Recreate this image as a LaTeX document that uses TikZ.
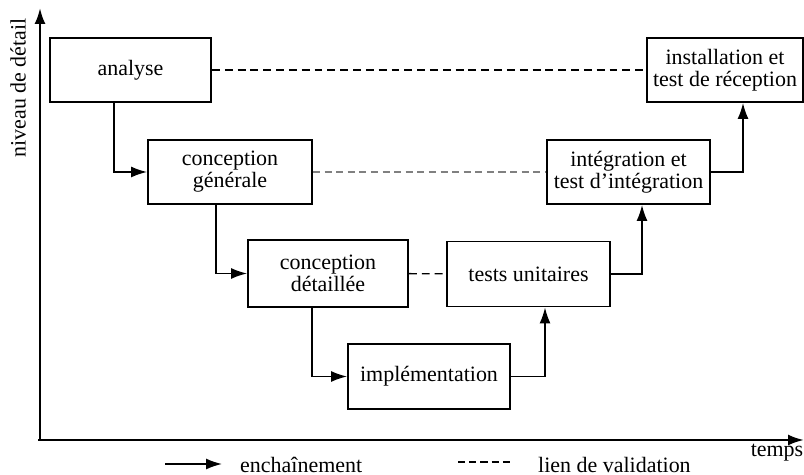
\documentclass[tikz,border=0pt]{standalone}
\usepackage{fontspec}
\setmainfont{Liberation Serif}
\usetikzlibrary{arrows.meta,calc}
\tikzset{
  etape/.style={draw,line width=1.1pt,align=center,inner sep=0pt,
    font=\fontsize{12.5}{12.5}\selectfont},
  flow/.style={line width=0.9pt,-{Latex[length=3.2mm,width=2.2mm]}},
  valid/.style={dashed,dash pattern=on 4.5pt off 2.8pt}
}
\begin{document}
\begin{tikzpicture}[x=0.02cm,y=-0.02cm,font=\fontsize{12.5}{12.5}\selectfont]
\useasboundingbox (0,0) rectangle (804,475);
% axes
\coordinate (o) at (40,440);
\coordinate (ytop) at (40,8);
\coordinate (xend) at (804,440);
\draw[line width=1.3pt,-{Latex[length=3.2mm,width=2.2mm]}] (o) -- (ytop);
\draw[line width=1.3pt,-{Latex[length=3.2mm,width=2.2mm]}] (38,440) -- (xend);
\node[rotate=90] (niveau) at (18,88) {niveau de détail};
\node (temps) at (777,453) {temps};

% etapes
\node[etape,minimum width=3.22cm,minimum height=1.28cm] (analyse) at (130.5,70) {analyse};
\node[etape,minimum width=3.12cm,minimum height=1.28cm] (install) at (725,70) {installation et\\test de réception};
\node[etape,minimum width=3.28cm,minimum height=1.28cm] (cgen) at (230,172) {conception\\générale};
\node[etape,minimum width=3.26cm,minimum height=1.28cm] (integ) at (628.5,172) {intégration et\\test d'intégration};
\node[etape,minimum width=3.2cm,minimum height=1.34cm] (cdet) at (328,273.5) {conception\\détaillée};
\node[etape,minimum width=3.26cm,minimum height=1.3cm] (tests) at (528.5,274) {tests unitaires};
\node[etape,minimum width=3.24cm,minimum height=1.3cm] (impl) at (429,376.5) {implémentation};

% enchainement
\draw[flow] ($(analyse.south west)+(65,0)$) |- (cgen);
\draw[flow] ($(cgen.south west)+(69,0)$) |- (cdet);
\draw[flow] ($(cdet.south west)+(65,0)$) |- (impl);
\draw[flow] (impl) -| ($(tests.south)+(16.5,0)$);
\draw[flow] (tests) -| ($(integ.south)+(13.5,0)$);
\draw[flow] (integ) -| ($(install.south)+(18,0)$);

% liens de validation
\draw[valid,line width=1.3pt] (analyse) -- (install);
\draw[valid,gray,line width=0.6pt,dash pattern=on 4pt off 2.6pt] (cgen) -- (integ);
\draw[valid,line width=0.8pt] (cdet) -- (tests);

% legende
\coordinate (l1) at (165,464);
\coordinate (l2) at (222,464);
\draw[flow] (l1) -- (l2);
\node[anchor=west] (enchainement) at (234,465) {enchaînement};
\coordinate (l3) at (458,462);
\coordinate (l4) at (514,462);
\draw[line width=0.8pt,dash pattern=on 4pt off 2.4pt] (l3) -- (l4);
\node[anchor=west] (lien) at (532,465) {lien de validation};
\end{tikzpicture}
\end{document}
